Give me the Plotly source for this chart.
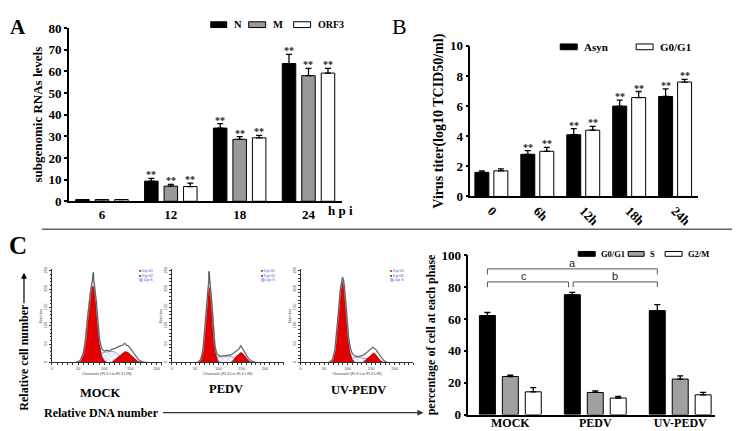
import plotly.graph_objects as go

W, H = 740, 431
def px(x): return x / W
def py(y): return 1 - y / H

SERIF = "Liberation Serif"

# ---------------- Panel A data ----------------
A_cats = ["6", "12", "18", "24"]
A_N = [0.8, 9.3, 33.8, 63.6]
A_N_err = [0, 1.3, 2.1, 4.2]
A_M = [0.8, 7.0, 28.6, 58.0]
A_M_err = [0, 0.8, 1.3, 3.4]
A_ORF3 = [0.8, 6.8, 29.3, 59.2]
A_ORF3_err = [0, 1.6, 1.1, 2.2]
A_stars = ["", "**", "**", "**"]

# ---------------- Panel B data ----------------
B_cats = ["0", "6h", "12h", "18h", "24h"]
B_Asyn = [1.6, 2.8, 4.1, 6.0, 6.64]
B_Asyn_err = [0.1, 0.25, 0.4, 0.4, 0.5]
B_G0 = [1.7, 3.0, 4.4, 6.57, 7.6]
B_G0_err = [0.13, 0.26, 0.25, 0.4, 0.17]
B_stars = ["", "**", "**", "**", "**"]

# ---------------- Panel C bar data ----------------
C_cats = ["MOCK", "PEDV", "UV-PEDV"]
C_G0 = [62.2, 75.3, 65.3]
C_G0_err = [1.9, 1.4, 3.8]
C_S = [23.9, 13.9, 22.3]
C_S_err = [0.8, 1.0, 2.0]
C_G2M = [14.3, 10.4, 12.4]
C_G2M_err = [2.6, 1.0, 1.5]

# ---------------- Panel C histograms (channel, count) ----------------
MOCK_env_ch = [45, 54, 60, 64, 68, 72, 75, 77, 78, 79, 80, 82, 85, 88, 91, 94, 97, 100, 105, 110, 115, 120, 125, 130, 135, 139, 142, 146, 150, 155, 160, 166, 172, 180]
MOCK_env = [0, 5, 25, 60, 120, 175, 205, 220, 238, 245, 225, 205, 165, 110, 65, 42, 34, 31, 33, 31, 36, 38, 42, 45, 47, 52, 48, 45, 38, 28, 16, 7, 2, 0]
MOCK_G1_ch = [48, 56, 62, 66, 70, 73, 76, 79, 82, 85, 88, 91, 95, 100, 106]
MOCK_G1 = [0, 8, 40, 90, 150, 190, 205, 208, 195, 155, 100, 50, 18, 5, 0]
MOCK_G2_ch = [114, 121, 128, 134, 139, 143, 147, 152, 158, 164, 172]
MOCK_G2 = [0, 8, 18, 25, 29, 29, 26, 19, 10, 3, 0]
MOCK_S_ch = [84, 90, 95, 100, 106, 112, 118, 124, 130, 136]
MOCK_S = [0, 18, 26, 28, 29, 30, 30, 26, 16, 0]

PEDV_env_ch = [55, 62, 67, 71, 74, 77, 79, 80, 81, 83, 86, 89, 92, 96, 100, 105, 110, 115, 120, 125, 130, 135, 140, 145, 148, 151, 155, 160, 165, 172, 180]
PEDV_env = [0, 8, 35, 85, 140, 190, 215, 248, 225, 205, 160, 100, 50, 26, 19, 17, 18, 17, 18, 20, 23, 28, 33, 38, 46, 40, 32, 20, 10, 3, 0]
PEDV_G1_ch = [58, 64, 69, 73, 76, 79, 82, 85, 88, 91, 94, 98, 103]
PEDV_G1 = [0, 12, 50, 115, 170, 200, 205, 180, 130, 70, 28, 6, 0]
PEDV_G2_ch = [126, 133, 138, 143, 148, 152, 156, 161, 166, 173]
PEDV_G2 = [0, 7, 16, 23, 27, 25, 19, 10, 3, 0]
PEDV_S_ch = [90, 95, 100, 110, 120, 130, 138, 146]
PEDV_S = [0, 10, 15, 16, 16, 15, 10, 0]

UV_env_ch = [60, 68, 73, 77, 81, 84, 87, 89, 91, 93, 96, 99, 102, 106, 110, 115, 120, 126, 132, 138, 144, 149, 153, 157, 161, 166, 171, 177, 185]
UV_env = [0, 8, 35, 85, 145, 195, 222, 232, 226, 208, 165, 115, 70, 38, 24, 18, 16, 17, 19, 24, 30, 36, 41, 38, 34, 24, 14, 5, 0]
UV_G1_ch = [62, 70, 75, 79, 83, 86, 89, 92, 95, 98, 101, 105, 110, 116]
UV_G1 = [0, 12, 45, 115, 175, 212, 222, 210, 170, 115, 65, 28, 8, 0]
UV_G2_ch = [132, 139, 145, 150, 155, 159, 164, 170, 177]
UV_G2 = [0, 8, 17, 23, 26, 23, 15, 5, 0]
UV_S_ch = [104, 110, 116, 125, 135, 145, 152]
UV_S = [0, 10, 14, 14, 12, 8, 0]

fig = go.Figure()
annotations = []
shapes = []

def add_bars(xa, ya, series, width, gap, star_size=10):
    total = len(series) * width + (len(series) - 1) * gap
    centers = []
    for k, (name, vals, errs, color, stars) in enumerate(series):
        off = -total / 2 + k * (width + gap)
        centers.append(off + width / 2)
        n = len(vals)
        fig.add_trace(go.Bar(
            x=list(range(n)), y=vals, width=width, offset=off, name=name,
            marker=dict(color=color, line=dict(color="black", width=1)),
            error_y=dict(type="data", symmetric=False, array=errs, arrayminus=[0] * n,
                         color="black", thickness=1.3, width=3),
            xaxis=xa, yaxis=ya, showlegend=False))
        if stars:
            for i in range(n):
                if stars[i]:
                    annotations.append(dict(
                        x=i + off + width / 2, y=vals[i] + errs[i], xref=xa, yref=ya,
                        text=stars[i], showarrow=False, yanchor="bottom", yshift=-4,
                        font=dict(family=SERIF, size=star_size, color="#222", weight="bold")))
    return centers

# Panel A
add_bars("x", "y", [
    ("N", A_N, A_N_err, "black", A_stars),
    ("M", A_M, A_M_err, "#999999", A_stars),
    ("ORF3", A_ORF3, A_ORF3_err, "white", A_stars)], 0.196, 0.087)

# Panel B
add_bars("x2", "y2", [
    ("Asyn", B_Asyn, B_Asyn_err, "black", B_stars),
    ("G0/G1", B_G0, B_G0_err, "white", B_stars)], 0.304, 0.109)

# Panel C bars
cC = add_bars("x6", "y6", [
    ("G0/G1", C_G0, C_G0_err, "black", None),
    ("S", C_S, C_S_err, "#a0a0a0", None),
    ("G2/M", C_G2M, C_G2M_err, "white", None)], 0.188, 0.082)

# Histograms
RED = "#e30000"
def add_hist(xa, ya, env_ch, env, g1_ch, g1, g2_ch, g2, s_ch, s):
    fig.add_trace(go.Scatter(x=s_ch, y=s, mode="lines", fill="tozeroy",
                             line=dict(color="#5a6ad0", width=0.6),
                             fillpattern=dict(shape="x", fgcolor="#5a6ad0", bgcolor="white", size=4, solidity=0.25),
                             xaxis=xa, yaxis=ya, showlegend=False))
    for ch, ct in ((g1_ch, g1), (g2_ch, g2)):
        fig.add_trace(go.Scatter(x=ch, y=ct, mode="lines", fill="tozeroy", fillcolor=RED,
                                 line=dict(color="#700000", width=0.6),
                                 xaxis=xa, yaxis=ya, showlegend=False))
    fig.add_trace(go.Scatter(x=env_ch, y=env, mode="lines",
                             line=dict(color="#b5b5b5", width=1.6),
                             xaxis=xa, yaxis=ya, showlegend=False))
    fig.add_trace(go.Scatter(x=env_ch, y=env, mode="lines",
                             line=dict(color="#222", width=0.6),
                             xaxis=xa, yaxis=ya, showlegend=False))

add_hist("x3", "y3", MOCK_env_ch, MOCK_env, MOCK_G1_ch, MOCK_G1, MOCK_G2_ch, MOCK_G2, MOCK_S_ch, MOCK_S)
add_hist("x4", "y4", PEDV_env_ch, PEDV_env, PEDV_G1_ch, PEDV_G1, PEDV_G2_ch, PEDV_G2, PEDV_S_ch, PEDV_S)
add_hist("x5", "y5", UV_env_ch, UV_env, UV_G1_ch, UV_G1, UV_G2_ch, UV_G2, UV_S_ch, UV_S)

# ---------------- axes ----------------
tickfont = dict(family=SERIF, size=13, color="black", weight="bold")
titlefont = dict(family=SERIF, size=13, color="black", weight="bold")
base_x = dict(showline=True, linecolor="black", linewidth=1.5, ticks="", showgrid=False,
              zeroline=False, tickfont=tickfont, fixedrange=True)
base_y = dict(showline=True, linecolor="black", linewidth=1.5, ticks="outside", ticklen=3,
              tickwidth=1.5, tickcolor="black", showgrid=False, zeroline=False,
              tickfont=tickfont, fixedrange=True)

fig.update_layout(
    xaxis=dict(base_x, domain=[px(60), px(333)], range=[-0.48, 3.48], anchor="y",
               tickvals=list(range(len(A_cats))), ticktext=A_cats),
    yaxis=dict(base_y, domain=[py(193), py(13.5)], range=[0, 80], dtick=10, anchor="x",
               title=dict(text="subgenomic RNAs levels", font=titlefont, standoff=3)),
    xaxis2=dict(base_x, domain=[px(462), px(690)], range=[-0.457, 4.5], anchor="y2",
                tickvals=list(range(len(B_cats))), ticktext=B_cats, tickangle=45),
    yaxis2=dict(base_y, domain=[py(188), py(32)], range=[0, 10], dtick=2, anchor="x2",
                title=dict(text="Virus titer(log10 TCID50/ml)",
                           font=dict(titlefont, size=14), standoff=3)),
    xaxis6=dict(base_x, domain=[px(460), px(707)], range=[-0.494, 2.41], anchor="y6",
                tickvals=list(range(len(C_cats))), ticktext=C_cats, ticklabelstandoff=-4,
                tickfont=dict(family=SERIF, size=12, color="black", weight="bold")),
    yaxis6=dict(base_y, domain=[py(414), py(249)], range=[0, 100], dtick=20, anchor="x6",
                title=dict(text="percentage of cell at each phase",
                           font=dict(titlefont, size=12), standoff=3)),
)

tiny = dict(family="Liberation Sans", size=4, color="#444")
hist_dom = [(43, 153, 210), (163, 275, 240), (292, 405, 240)]
for idx, (x0, x1, xmax) in zip((3, 4, 5), hist_dom):
    fig.update_layout(**{
        f"xaxis{idx}": dict(domain=[px(x0), px(x1)], range=[0, xmax], anchor=f"y{idx}",
                            showline=True, linecolor="#333", linewidth=0.8, ticks="outside",
                            ticklen=2, tickwidth=0.6, tickcolor="#333", dtick=50,
                            minor=dict(ticks="outside", dtick=10, ticklen=1.5, tickcolor="#333"),
                            showgrid=False, zeroline=False, tickfont=tiny,
                            title=dict(text="Channels (FL3 Lin-FL3 LIN)", font=tiny, standoff=0)),
        f"yaxis{idx}": dict(domain=[py(360), py(263)], range=[0, 255], anchor=f"x{idx}",
                            showline=True, linecolor="#333", linewidth=0.8, ticks="outside",
                            ticklen=2, tickwidth=0.6, tickcolor="#333", dtick=50,
                            minor=dict(ticks="outside", dtick=10, ticklen=1.5, tickcolor="#333"),
                            showgrid=False, zeroline=False, tickfont=tiny, tickangle=-90,
                            title=dict(text="Number", font=tiny, standoff=0)),
    })
    annotations.append(dict(
        x=px(x1 - 25), y=py(261), xref="paper", yref="paper", xanchor="left", yanchor="top",
        showarrow=False, align="left",
        text=("<span style='color:#b00000'>■</span> <span style='color:#4050d0'>Dip G1</span><br>"
              "<span style='color:#b00000'>■</span> <span style='color:#4050d0'>Dip G2</span><br>"
              "<span style='color:#4050d0'>▨ Dip S</span>"),
        font=dict(family="Liberation Sans", size=3.5, color="#4050d0")))

# ---------------- brackets in C ----------------
g0c = cC[0]
def bracket(xa0, xa1, ylow, yhigh):
    shapes.append(dict(type="path", xref="x6", yref="y6",
                       path=f"M {xa0},{ylow} L {xa0},{yhigh} L {xa1},{yhigh} L {xa1},{ylow}",
                       line=dict(color="#555", width=1)))
bracket(0 + g0c, 2 + g0c, 88, 91.5)
bracket(0 + g0c, 1 + g0c - 0.045, 80, 83.3)
bracket(1 + g0c + 0.01, 2 + g0c, 80, 83.3)
sans = dict(family="Liberation Sans", size=11, color="#222")
annotations += [
    dict(x=(g0c + 2 + g0c) / 2, y=91.5, xref="x6", yref="y6", text="a", showarrow=False, yanchor="bottom", font=sans, yshift=-2),
    dict(x=(g0c + 1 + g0c) / 2 - 0.07, y=83.3, xref="x6", yref="y6", text="c", showarrow=False, yanchor="bottom", font=sans, yshift=-2),
    dict(x=(1 + g0c + 2 + g0c) / 2, y=83.3, xref="x6", yref="y6", text="b", showarrow=False, yanchor="bottom", font=sans, yshift=-2),
]

# ---------------- custom legends ----------------
def legend_item(x0, x1, y0, y1, color, label, tx, ty, size):
    shapes.append(dict(type="rect", xref="paper", yref="paper", x0=px(x0), x1=px(x1),
                       y0=py(y1), y1=py(y0), fillcolor=color, line=dict(color="black", width=1)))
    annotations.append(dict(x=px(tx), y=py(ty), xref="paper", yref="paper", text=label,
                            showarrow=False, xanchor="left", yanchor="middle",
                            font=dict(family=SERIF, size=size, color="black", weight="bold")))

legend_item(202, 218, 7, 13, "black", "N", 223, 10, 10.5)
legend_item(240, 257, 7, 13, "#999999", "M", 262, 10, 10.5)
legend_item(285, 302, 7, 13, "white", "ORF3", 307, 10, 10)
legend_item(552, 569, 30, 36, "black", "Asyn", 574, 33, 11)
legend_item(628, 645, 30, 36, "white", "G0/G1", 650, 33, 11)
legend_item(570, 587, 245, 250, "black", "G0/G1", 591, 247.5, 8.5)
legend_item(620, 636, 245, 250, "#a0a0a0", "S", 640, 247.5, 8.5)
legend_item(657, 674, 245, 250, "white", "G2/M", 678, 247.5, 8.5)

# ---------------- texts ----------------
def txt(x, y, s, size, bold=True, xanchor="center", angle=0, family=SERIF):
    annotations.append(dict(x=px(x), y=py(y), xref="paper", yref="paper", text=s,
                            showarrow=False, xanchor=xanchor, yanchor="middle", textangle=angle,
                            font=dict(family=family, size=size, color="black",
                                      weight="bold" if bold else "normal")))

txt(9, 12, "A", 21)
txt(391, 12, "B", 22, bold=False)
txt(9, 239, "C", 25)
txt(317, 203, "h p i", 13, xanchor="left")
txt(92, 392, "MOCK", 12.5)
txt(217, 388, "PEDV", 12.5)
txt(350, 389, "UV-PEDV", 12.5)
txt(33, 412, "Relative DNA number", 12, xanchor="left")
txt(15, 354, "Relative cell number", 12, angle=-90)

# arrows
annotations.append(dict(x=px(15), y=py(267), xref="paper", yref="paper", text="", showarrow=True,
                        ax=0, ay=32, arrowhead=2, arrowsize=1, arrowwidth=1.2, arrowcolor="black"))
annotations.append(dict(x=px(415), y=py(412), xref="paper", yref="paper", text="", showarrow=True,
                        ax=-262, ay=0, arrowhead=2, arrowsize=1, arrowwidth=1.2, arrowcolor="#333"))

# separator
shapes.append(dict(type="line", xref="paper", yref="paper", x0=px(33), x1=px(727),
                   y0=py(222), y1=py(222), line=dict(color="#666", width=1.5)))

fig.update_layout(
    width=W, height=H, margin=dict(l=0, r=0, t=0, b=0),
    paper_bgcolor="white", plot_bgcolor="white", barmode="overlay",
    annotations=annotations, shapes=shapes, showlegend=False,
)

fig.write_html("out.html")
